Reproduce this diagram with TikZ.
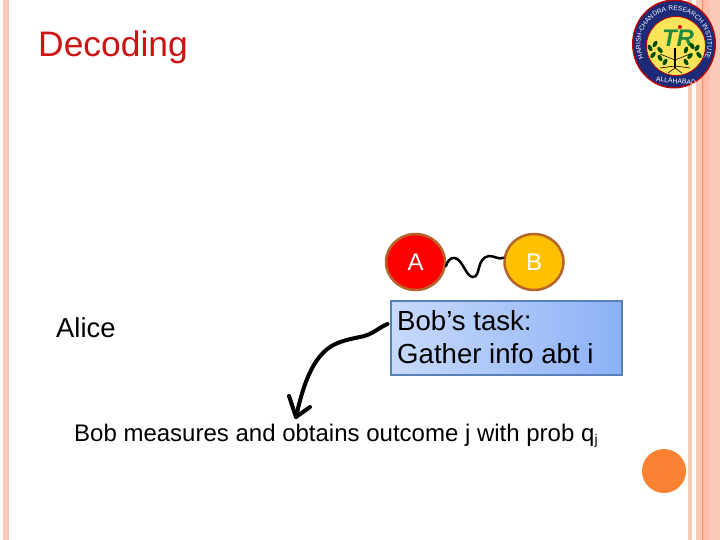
\documentclass[tikz,border=0pt]{standalone}
\usepackage{fontspec}
\setmainfont{Liberation Sans}
\usetikzlibrary{decorations.text,shapes.geometric}
\definecolor{stripe}{HTML}{FBC9B8}
\definecolor{stripeb}{HTML}{FDBFAA}
\definecolor{rimc}{HTML}{B5652B}
\definecolor{titlered}{HTML}{CC1414}
\definecolor{logoblue}{HTML}{1C2A78}
\definecolor{boxl}{HTML}{C8DAFB}
\definecolor{boxr}{HTML}{8DB1F6}
\definecolor{boxe}{HTML}{5A80B8}
\definecolor{dot}{HTML}{FB8232}
\definecolor{amber}{HTML}{FFC000}
\definecolor{logoyellow}{HTML}{FCE45A}
\definecolor{logogreen}{HTML}{1E8A3C}
\tikzset{
  x=1pt,y=-1pt,
  lbl/.style={inner sep=0pt,anchor=base west,text=black},
  ball/.style={ellipse,draw=rimc,line width=2.5pt,minimum width=59pt,minimum height=56pt,inner sep=0pt,font=\fontsize{24}{26}\selectfont},
  hand/.style={black,line width=2.5pt,line cap=round,line join=round},
  handb/.style={black,line width=4pt,line cap=round,line join=round},
  leaf/.style={fill=green!30!black,draw=none}
}
\begin{document}
\begin{tikzpicture}
\useasboundingbox (0,0) rectangle (720,540);
\fill[white] (0,0) rectangle (720,540);
% page stripes
\fill[stripe] (3,0) rectangle (9,540);
\fill[stripe] (688,0) rectangle (692,540);
\fill[stripe] (696,0) rectangle (702,540);
\fill[stripeb] (703,0) rectangle (710,540);
\fill[stripe] (710,0) rectangle (720,540);
\fill[orange!70!red!70] (702,0) rectangle (703,540);
% orange dot
\fill[dot] (664,471) circle (22);
% logo
\fill[red!75!black] (674,44) ellipse (42 and 44.5);
\fill[logoblue] (674,44) ellipse (40.5 and 43);
\fill[logoyellow] (676,46) circle (29.5);
\draw[red!75!black,line width=.8pt] (676,46) circle (29.5);
\path[decorate,decoration={text along path,text align=center,
  text={|\fontsize{6.6}{6.6}\selectfont\color{white}|HARISH-CHANDRA RESEARCH INSTITUTE}}]
  (645,60.75) arc[start angle=150,end angle=390,radius=33.5];
\node[font=\fontsize{6.8}{7}\selectfont,text=white,inner sep=0pt,rotate=-5] (logoa) at (676,81) {ALLAHABAD};
\node[font=\bfseries\itshape\fontsize{24}{24}\selectfont,text=logogreen,inner sep=0pt] (logotr) at (678,38) {TR};
\fill[red!80!black] (680,27) circle (2);
\draw[black,line width=1.1pt] (675,48) -- (675,68);
\draw[black,line width=.6pt] (675,60) -- (660,54) (675,60) -- (690,54) (675,66) -- (660,68) (675,66) -- (690,68) (675,68) -- (668,73) (675,68) -- (682,73);
\foreach \p/\q/\a in {650/48/30,655/44/-30,660/50/40,653/55/-40,660/58/30,665/62/-30,686/62/30,690/56/-40,697/48/-30,692/46/30,699/55/40,686/50/-20}{\fill[leaf,rotate around={\a:(\p,\q)}] (\p,\q) ellipse (2 and 3.6);}
% title and labels
\node[lbl,text=titlered,font=\fontsize{35.4}{38}\selectfont] (title) at (38,57) {Decoding};
\node[lbl,font=\fontsize{27.4}{30}\selectfont] (alice) at (56,337) {Alice};
\node[ball,fill=red,text=white] (a) at (415.5,262) {A};
\node[ball,fill=amber,text=white] (b) at (534,262) {B};
\node[draw=boxe,line width=2pt,outer sep=0pt,left color=boxl,right color=boxr,
  minimum width=231pt,minimum height=74pt,inner sep=0pt,anchor=north west] (task) at (390.5,300.5) {};
\node[lbl,font=\fontsize{27.6}{30}\selectfont] (t1) at (397,330) {Bob’s task:};
\node[lbl,font=\fontsize{27.6}{30}\selectfont] (t2) at (397,363) {Gather info abt i};
\node[lbl,font=\fontsize{24}{28}\selectfont] (bm) at (74,441) {Bob measures and obtains outcome j with prob q\raisebox{-3pt}{\fontsize{14}{16}\selectfont j}};
% wave
\draw[hand] (a.-8) .. controls (447,262) and (450,257) .. (455,258)
  .. controls (463,260) and (466,277) .. (473,277)
  .. controls (481,277) and (476,258) .. (489,256)
  .. controls (495,256) and (499,260) .. (b.172);
% hand-drawn arrow
\coordinate (tip) at (296,417);
\draw[handb] ([xshift=-3pt]task.west|-0,324) .. controls (378,328) and (372,335) .. (360,337)
  .. controls (345,340) and (332,343) .. (323,353)
  .. controls (308,368) and (301,395) .. (tip);
\draw[handb] (289,396) -- (tip) -- (310,407);
\end{tikzpicture}
\end{document}
